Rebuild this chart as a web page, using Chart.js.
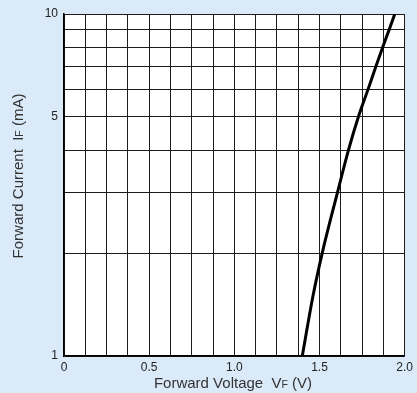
<!DOCTYPE html>
<html>
<head>
<meta charset="utf-8">
<script src="https://cdn.jsdelivr.net/npm/chart.js@4.4.1/dist/chart.umd.min.js"></script>
<style>
  html, body { margin: 0; padding: 0; background: #dbeaf8; }
  #wrap { width: 417px; height: 393px; position: relative; }
</style>
</head>
<body>
<div id="wrap"><canvas id="c"></canvas></div>
<script>
// Forward characteristic: voltage (V) vs current (mA)
const forwardVoltage = [1.399, 1.462, 1.516, 1.605, 1.670, 1.728, 1.784, 1.830, 1.871, 1.909, 1.942];
const forwardCurrent = [1, 1.5, 2, 3, 4, 5, 6, 7, 8, 9, 10];

// Axis ticks
const xGridStep = 0.125;
const xLabelValues = [0, 0.5, 1.0, 1.5, 2.0];
const xLabelTexts = ['0', '0.5', '1.0', '1.5', '2.0'];
const yGridValues = [1, 2, 3, 4, 5, 6, 7, 8, 9, 10];
const yLabelValues = [1, 5, 10];

const FONT = '"Liberation Sans", Arial, Helvetica, sans-serif';
const GRID = '#1c1c1c';

// Axis titles with a subscript F
const titlePlugin = {
  id: 'axisTitles',
  afterDraw(chart) {
    const ctx = chart.ctx;
    function drawParts(parts) {
      let total = 0;
      parts.forEach(p => { ctx.font = p.size + 'px ' + FONT; p.w = ctx.measureText(p.t).width; total += p.w; });
      let x = -total / 2;
      parts.forEach(p => {
        ctx.font = p.size + 'px ' + FONT;
        ctx.fillText(p.t, x, p.dy || 0);
        x += p.w;
      });
    }
    ctx.save();
    ctx.fillStyle = '#333';
    ctx.textBaseline = 'alphabetic';
    ctx.textAlign = 'left';
    // x title
    ctx.save();
    ctx.translate(233, 388);
    drawParts([
      { t: 'Forward Voltage  V', size: 15 },
      { t: 'F', size: 10.5 },
      { t: ' (V)', size: 15 }
    ]);
    ctx.restore();
    // y title
    ctx.save();
    ctx.translate(23, 176);
    ctx.rotate(-Math.PI / 2);
    drawParts([
      { t: 'Forward Current  I', size: 15 },
      { t: 'F', size: 10.5 },
      { t: ' (mA)', size: 15 }
    ]);
    ctx.restore();
    ctx.restore();
  }
};

const plotBg = {
  id: 'plotBg',
  beforeDraw(chart) {
    const { ctx, chartArea: a } = chart;
    ctx.save();
    ctx.fillStyle = '#ffffff';
    ctx.fillRect(a.left, a.top, a.right - a.left, a.bottom - a.top);
    ctx.restore();
  }
};

new Chart(document.getElementById('c'), {
  type: 'scatter',
  data: {
    datasets: [{
      data: forwardVoltage.map((v, i) => ({ x: v, y: forwardCurrent[i] })),
      showLine: true,
      borderColor: '#000',
      borderWidth: 3,
      pointRadius: 0,
      cubicInterpolationMode: 'monotone',
      fill: false
    }]
  },
  options: {
    responsive: true,
    maintainAspectRatio: false,
    animation: false,
    events: [],
    layout: { padding: { top: 14, right: 11, left: 0, bottom: 0 } },
    plugins: { legend: { display: false }, tooltip: { enabled: false } },
    scales: {
      x: {
        type: 'linear',
        min: 0, max: 2.0,
        afterBuildTicks(axis) {
          const t = [];
          for (let v = 0; v <= 2.0 + 1e-9; v += xGridStep) t.push({ value: Math.round(v * 1000) / 1000 });
          axis.ticks = t;
        },
        afterFit(axis) { axis.height = 37; },
        ticks: {
          autoSkip: false, maxRotation: 0, padding: 4,
          color: '#222',
          font: { family: FONT, size: 12 },
          callback(v) {
            const i = xLabelValues.findIndex(l => Math.abs(l - v) < 1e-6);
            return i >= 0 ? xLabelTexts[i] : '';
          }
        },
        grid: { color: GRID, lineWidth: 1, drawTicks: false },
        border: { color: '#000', width: 1.5 }
      },
      y: {
        type: 'logarithmic',
        min: 1, max: 10,
        afterBuildTicks(axis) { axis.ticks = yGridValues.map(v => ({ value: v })); },
        afterFit(axis) { axis.width = 64; },
        ticks: {
          autoSkip: false, padding: 6,
          color: '#222',
          font: { family: FONT, size: 12 },
          callback(v) { return yLabelValues.includes(v) ? String(v) : ''; }
        },
        grid: { color: GRID, lineWidth: 1, drawTicks: false },
        border: { color: '#000', width: 1.5 }
      }
    }
  },
  plugins: [plotBg, titlePlugin]
});
</script>
</body>
</html>
